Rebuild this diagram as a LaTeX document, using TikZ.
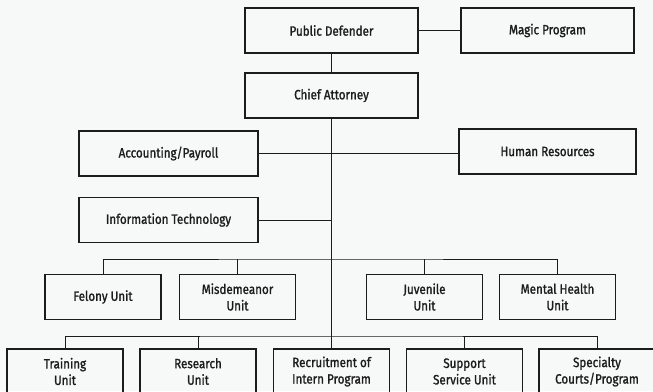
\documentclass[tikz,border=0pt]{standalone}
\usepackage{fontspec}
\setmainfont{Fira Sans}[FakeStretch=0.86, FakeBold=1.3]
\definecolor{paper}{HTML}{F7F8F8}
\definecolor{ink}{HTML}{1C1C1C}

\begin{document}
\begin{tikzpicture}[x=1pt, y=-1pt, line width=1pt, draw=ink,
    every node/.style={font=\fontsize{13.5}{16.5}\selectfont, text=ink},
    office/.style={draw, line width=1.2pt, minimum width=173pt, minimum height=45pt, inner sep=0pt, align=center},
    staff/.style={office, minimum width=179pt},
    unit/.style={office, minimum width=116pt}]
        \fill[paper] (0,0) rectangle (653,391);
        \clip (0,0) rectangle (653,391);

        % top of the chart
        \node[office] (pd) at (331.5,30.5) {Public Defender};
        \node[office] (magic) at (547.5,30.5) {Magic Program};
        \node[office] (ca) at (331.5,95.5) {Chief Attorney};

        % staff offices
        \node[staff] (acct) at (168.5,153.5) {Accounting/Payroll};
        \node[staff, minimum width=177pt] (hr) at (547.5,151.5) {Human Resources};
        \node[staff] (it) at (168.5,220) {Information Technology};

        % first row of units
        \node[unit] (felony) at (103,297) {Felony Unit};
        \node[unit] (misd) at (237.5,297) {Misdemeanor\\Unit};
        \node[unit] (juv) at (424.5,297) {Juvenile\\Unit};
        \node[unit] (mh) at (557.5,297) {Mental Health\\Unit};

        % second row of units
        \node[unit] (training) at (65,371.5) {Training\\Unit};
        \node[unit] (research) at (198,371.5) {Research\\Unit};
        \node[unit] (recruit) at (331.5,371.5) {Recruitment of\\Intern Program};
        \node[unit] (support) at (464.5,371.5) {Support\\Service Unit};
        \node[unit] (specialty) at (597,371.5) {Specialty\\Courts/Program};

        \coordinate (topbar) at (331.5,259);
        \coordinate (lowbar) at (331.5,336);

        \draw (pd) -- (magic);
        \draw (pd) -- (ca);
        \draw (ca.south) -- (recruit.north);
        \draw (acct.east) -- (acct.east -| hr.west);
        \draw (it.east) -- (it.east -| ca.south);

        \draw (felony.north) |- (topbar) -| (mh.north);
        \draw (misd.north) -- (misd.north |- topbar);
        \draw (juv.north) -- (juv.north |- topbar);

        \draw (training.north) |- (lowbar) -| (specialty.north);
        \draw (research.north) -- (research.north |- lowbar);
        \draw (support.north) -- (support.north |- lowbar);
    \end{tikzpicture}
\end{document}
